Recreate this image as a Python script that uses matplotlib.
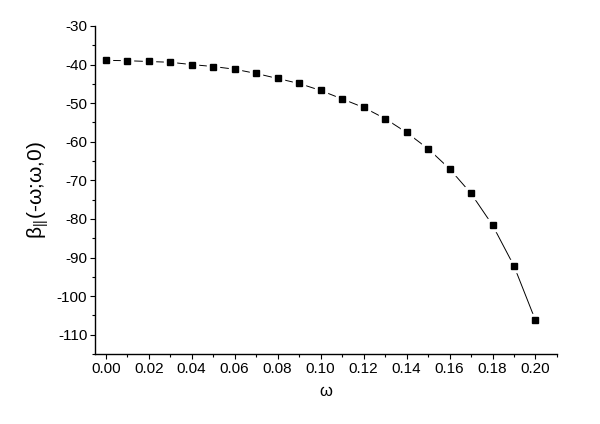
import numpy as np
import matplotlib
matplotlib.use('Agg')
import matplotlib.pyplot as plt
from matplotlib.ticker import MultipleLocator

plt.rcParams['font.family'] = ['Liberation Sans', 'DejaVu Sans']
plt.rcParams['mathtext.fontset'] = 'custom'
plt.rcParams['mathtext.rm'] = 'Liberation Sans'
plt.rcParams['mathtext.it'] = 'Liberation Sans'
plt.rcParams['axes.unicode_minus'] = False

# frequency and beta values
omega = [0.00, 0.01, 0.02, 0.03, 0.04, 0.05, 0.06, 0.07, 0.08, 0.09, 0.10,
         0.11, 0.12, 0.13, 0.14, 0.15, 0.16, 0.17, 0.18, 0.19, 0.20]
beta = [-38.9, -39.0, -39.2, -39.4, -40.0, -40.5, -41.2, -42.3, -43.6, -44.9, -46.7,
        -48.9, -51.1, -54.0, -57.6, -61.8, -67.0, -73.4, -81.6, -92.2, -106.3]

fig = plt.figure(figsize=(6, 4.24), dpi=100)
ax = fig.add_axes([0.1583, 0.1651, 0.77, 0.7736])

ax.plot(omega, beta, color='black', lw=0.7, zorder=2)
# white squares under the markers leave a small gap in the line, Origin style
ax.plot(omega, beta, ls='none', marker='s', ms=8, color='white', zorder=3)
ax.plot(omega, beta, ls='none', marker='s', ms=5, color='black', zorder=4)

ax.set_xlim(-0.005, 0.21)
ax.set_ylim(-115, -30)
ax.xaxis.set_major_locator(MultipleLocator(0.02))
ax.xaxis.set_minor_locator(MultipleLocator(0.01))
ax.yaxis.set_major_locator(MultipleLocator(10))
ax.yaxis.set_minor_locator(MultipleLocator(5))
ax.xaxis.set_major_formatter(plt.FuncFormatter(lambda v, p: '%.2f' % v))

for s in ['top', 'right']:
    ax.spines[s].set_visible(False)
for s in ['left', 'bottom']:
    ax.spines[s].set_linewidth(1.0)

ax.tick_params(which='major', direction='out', length=3.5, width=0.8, labelsize=11, pad=2)
ax.tick_params(which='minor', direction='out', length=2, width=0.8)

ax.set_xlabel('ω', fontsize=12, labelpad=6)
ax.set_ylabel('β$_{||}$(-ω;ω,0)', fontsize=15, labelpad=4)

fig.savefig('out.png', dpi=100)
